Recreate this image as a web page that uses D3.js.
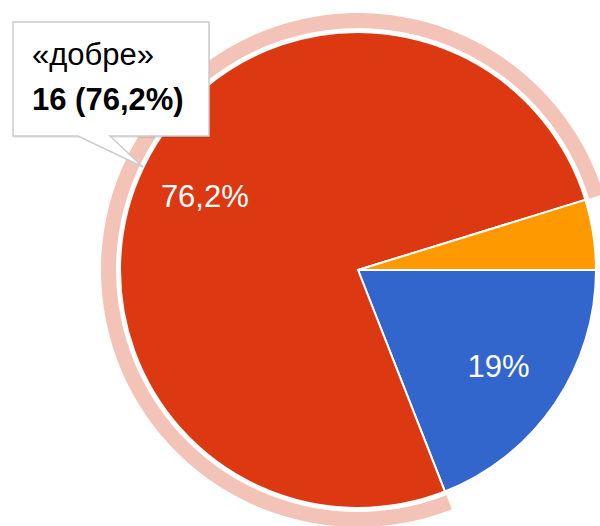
<!DOCTYPE html>
<html>
<head>
  <meta charset="utf-8">
  <title>Pie</title>
  <style>
    body { margin: 0; background: #fff; }
    svg { display: block; font-family: Arial, "Liberation Sans", sans-serif; }
  </style>
</head>
<body>
  <svg id="chart" width="600" height="526"></svg>

  <script src="https://d3js.org/d3.v7.min.js"></script>
  <script>
    // data
    const categories = ["«відмінно»", "«добре»", "«задовільно»"];
    const values = [4, 16, 1];
    const colors = ["#3366cc", "#dc3912", "#ff9900"];
    const hovered = 1; // slice with tooltip

    const svg = d3.select("#chart");
    const cx = 358, cy = 270, R = 238;

    const total = d3.sum(values);
    const fmtPct = v => {
      let s = d3.format(".1f")(v / total * 100);
      s = s.replace(/\.0$/, "").replace(".", ",");
      return s + "%";
    };

    const pie = d3.pie().sort(null)
      .startAngle(Math.PI / 2)
      .endAngle(Math.PI / 2 + 2 * Math.PI);
    const arcs = pie(values);

    const arc = d3.arc().innerRadius(0).outerRadius(R);
    const halo = d3.arc().innerRadius(R + 4).outerRadius(R + 19);
    const labelArc = d3.arc().innerRadius(170).outerRadius(170);

    const g = svg.append("g").attr("transform", `translate(${cx},${cy})`);

    // halo around hovered slice
    g.append("path")
      .attr("d", halo(arcs[hovered]))
      .attr("fill", colors[hovered])
      .attr("fill-opacity", 0.3);

    g.selectAll("path.slice")
      .data(arcs)
      .join("path")
      .attr("class", "slice")
      .attr("d", arc)
      .attr("fill", (d, i) => colors[i])
      .attr("stroke", "#fff")
      .attr("stroke-width", 2);

    g.selectAll("text.lbl")
      .data(arcs.filter(d => d.value / total > 0.1))
      .join("text")
      .attr("class", "lbl")
      .attr("transform", d => {
        const [x, y] = labelArc.centroid(d);
        return `translate(${x},${y})`;
      })
      .attr("text-anchor", "middle")
      .attr("dy", "0.36em")
      .attr("fill", "#fff")
      .style("font-size", "31px")
      .text(d => fmtPct(d.value));

    // tooltip
    const tip = svg.append("g");
    const bx = 13, by = 22, bw = 196, bh = 114;
    tip.append("rect")
      .attr("x", bx + 1).attr("y", by + 2)
      .attr("width", bw).attr("height", bh)
      .attr("fill", "#000").attr("fill-opacity", 0.08);
    tip.append("path")
      .attr("d", `M${bx},${by}H${bx + bw}V${by + bh}H110L143,167L78,${by + bh}H${bx}Z`)
      .attr("fill", "#fff")
      .attr("stroke", "#cccccc")
      .attr("stroke-width", 1.5);
    tip.append("text")
      .attr("x", 32).attr("y", 65)
      .style("font-size", "31px")
      .attr("fill", "#000")
      .text(categories[hovered]);
    tip.append("text")
      .attr("x", 32).attr("y", 110)
      .style("font-size", "31px")
      .style("font-weight", "bold")
      .attr("fill", "#000")
      .text(`${values[hovered]} (${fmtPct(values[hovered])})`);
  </script>
</body>
</html>
